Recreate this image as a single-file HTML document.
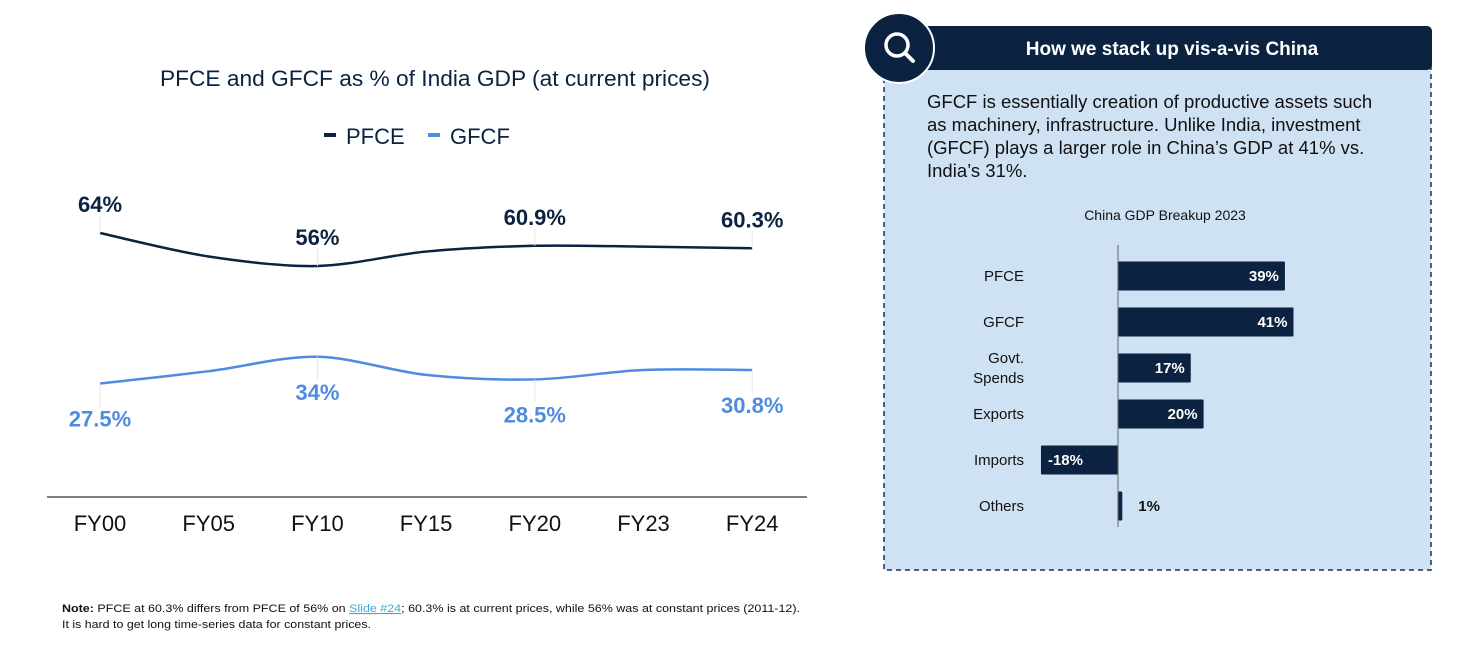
<!DOCTYPE html>
<html><head><meta charset="utf-8"><style>
html,body{margin:0;padding:0;background:#fff;}
svg{display:block;font-family:"Liberation Sans",Arial,sans-serif;}
</style></head><body>
<svg id="chart" width="1464" height="658" viewBox="0 0 1464 658">
<text x="435" y="86" text-anchor="middle" font-size="22" fill="#0b2340" textLength="550" lengthAdjust="spacingAndGlyphs">PFCE and GFCF as % of India GDP (at current prices)</text>
<g>
<g><rect x="324" y="133" width="12" height="4" fill="#0b2340"/><text x="346" y="144" font-size="22" fill="#0b2340">PFCE</text></g>
<g><rect x="428" y="133" width="12" height="4" fill="#4f8be0"/><text x="450" y="144" font-size="22" fill="#0b2340">GFCF</text></g>
</g>
<line x1="47" y1="497" x2="807" y2="497" stroke="#333" stroke-width="1.2"/>
<g id="lines"></g>
<g id="xt"></g>

<g>
<rect x="884" y="45" width="547" height="525" fill="#cfe2f3" stroke="#1a2f4d" stroke-width="1.5" stroke-dasharray="5,4"/>
<rect x="895" y="26" width="537" height="44" rx="5" fill="#0b2340"/>
<text x="1172" y="55" text-anchor="middle" font-size="19" font-weight="bold" fill="#fff">How we stack up vis-a-vis China</text>
<circle cx="899" cy="48" r="35" fill="#0b2340" stroke="#fff" stroke-width="2"/>
<g><circle cx="897" cy="45" r="11" fill="none" stroke="#fff" stroke-width="3.5"/><line x1="905" y1="53" x2="913" y2="61" stroke="#fff" stroke-width="4" stroke-linecap="round"/></g>
<text font-size="18.5" fill="#111">
<tspan x="927" y="108">GFCF is essentially creation of productive assets such</tspan>
<tspan x="927" y="131">as machinery, infrastructure. Unlike India, investment</tspan>
<tspan x="927" y="154">(GFCF) plays a larger role in China’s GDP at 41% vs.</tspan>
<tspan x="927" y="177">India’s 31%.</tspan>
</text>
<text x="1165" y="220" text-anchor="middle" font-size="14" fill="#111">China GDP Breakup 2023</text>
<g id="bars"></g>
<line x1="1118" y1="245" x2="1118" y2="527" stroke="#666" stroke-width="1"/>
</g>

<text x="62" y="612" font-size="11" fill="#111" textLength="738" lengthAdjust="spacingAndGlyphs"><tspan font-weight="bold">Note:</tspan> PFCE at 60.3% differs from PFCE of 56% on <tspan fill="#3fa9d6" text-decoration="underline">Slide #24</tspan>; 60.3% is at current prices, while 56% was at constant prices (2011-12).</text>
<text x="62" y="628" font-size="11" fill="#111" textLength="309" lengthAdjust="spacingAndGlyphs">It is hard to get long time-series data for constant prices.</text>
</svg>
<script>
const years = ["FY00","FY05","FY10","FY15","FY20","FY23","FY24"];
const pfce = [64, 58.3, 56, 59.5, 60.9, 60.7, 60.3];
const gfcf = [27.5, 30.5, 34, 29.6, 28.5, 30.8, 30.8];
const pfceLabels = ["64%", "", "56%", "", "60.9%", "", "60.3%"];
const gfcfLabels = ["27.5%", "", "34%", "", "28.5%", "", "30.8%"];
const barCats = ["PFCE","GFCF","Govt.|Spends","Exports","Imports","Others"];
const barVals = [39, 41, 17, 20, -18, 1];
const barLabels = ["39%","41%","17%","20%","-18%","1%"];

const NS = "http://www.w3.org/2000/svg";
function mk(tag, attrs, parent){const e=document.createElementNS(NS,tag);for(const k in attrs)e.setAttribute(k,attrs[k]);parent.appendChild(e);return e;}
const xS = i => 100 + i*108.7;
const yS = v => 233 + (64 - v)*4.125;
function smooth(pts){
  let d = "M"+pts[0][0]+","+pts[0][1];
  for(let i=0;i<pts.length-1;i++){
    const p0=pts[i-1]||pts[i], p1=pts[i], p2=pts[i+1], p3=pts[i+2]||p2;
    const t=0.16;
    d += " C"+(p1[0]+(p2[0]-p0[0])*t)+","+(p1[1]+(p2[1]-p0[1])*t)+" "+(p2[0]-(p3[0]-p1[0])*t)+","+(p2[1]-(p3[1]-p1[1])*t)+" "+p2[0]+","+p2[1];
  }
  return d;
}
const lg = document.getElementById("lines");
[[pfce,"#0b2340","pfce",pfceLabels,-1],[gfcf,"#4f8be0","gfcf",gfcfLabels,1]].forEach(([vals,col,nm,labs,dir])=>{
  const pts = vals.map((v,i)=>[xS(i),yS(v)]);
  const p = mk("path",{d:smooth(pts),fill:"none",stroke:col,"stroke-width":2.5},lg);
  
  
  labs.forEach((l,i)=>{
    if(!l) return;
    const y = dir<0 ? pts[i][1]-21 : pts[i][1]+43;
    const ln = mk("line",{x1:pts[i][0],x2:pts[i][0],y1:dir<0?y+4:pts[i][1],y2:dir<0?pts[i][1]:y-20,stroke:"#e6e6e6","stroke-width":1},lg);
    
    
    const t = mk("text",{x:pts[i][0],y:y,"text-anchor":"middle","font-size":22,"font-weight":"bold",fill:col},lg);
    t.textContent = l;
    
    
  });
});
const xt = document.getElementById("xt");
years.forEach((y,i)=>{
  const t = mk("text",{x:xS(i),y:531,"text-anchor":"middle","font-size":22,fill:"#111"},xt);
  t.textContent = y;
  
  
});
const bg = document.getElementById("bars");
const bx = v => 1118 + v*4.28;
barCats.forEach((c,i)=>{
  const cy = 276 + i*46;
  const v = barVals[i];
  const x0 = Math.min(bx(0),bx(v)), w = Math.abs(bx(v)-bx(0));
  const r = mk("rect",{x:x0,y:cy-14.5,width:Math.max(w,1),height:29,fill:"#0b2340",rx:1},bg);
  
  
  const parts = c.split("|");
  parts.forEach((p,j)=>{
    const t = mk("text",{x:1024,y:cy+5+(j-(parts.length-1)/2)*20,"text-anchor":"end","font-size":15,fill:"#111"},bg);
    t.textContent = p;
    
    
  });
  let t;
  if (w < 40) t = mk("text",{x:bx(v)+16,y:cy+5,"font-size":15,"font-weight":"bold",fill:"#111"},bg);
  else if (v < 0) t = mk("text",{x:bx(v)+7,y:cy+5,"font-size":15,"font-weight":"bold",fill:"#fff"},bg);
  else t = mk("text",{x:bx(v)-6,y:cy+5,"text-anchor":"end","font-size":15,"font-weight":"bold",fill:"#fff"},bg);
  t.textContent = barLabels[i];
  
  
});
</script>
</body></html>
